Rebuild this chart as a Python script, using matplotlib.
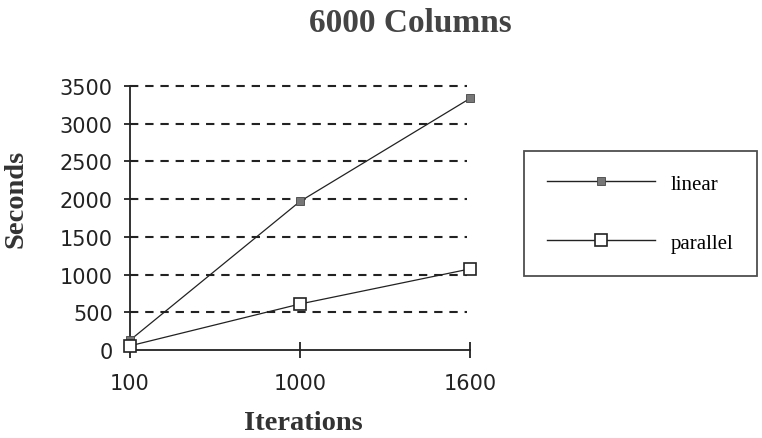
import matplotlib
matplotlib.use("Agg")
import matplotlib.pyplot as plt
from matplotlib.lines import Line2D

categories = ["100", "1000", "1600"]
linear = [130, 1970, 3335]
parallel = [55, 610, 1075]
yticks = [0, 500, 1000, 1500, 2000, 2500, 3000, 3500]

fig = plt.figure(figsize=(7.62, 4.39), dpi=100)
ax = fig.add_axes([130/762, 1-351/439, 340/762, 264/439])
x = list(range(len(categories)))

for y in yticks[1:]:
    ax.axhline(y, color="#222222", lw=1.5, ls=(0, (4, 3.3)), xmax=0.99, zorder=1,
               clip_on=False)

ax.plot(x, linear, color="#222222", lw=0.9, marker="s", markersize=5.5,
        markerfacecolor="#777777", markeredgecolor="#444444", markeredgewidth=0.6,
        zorder=3, clip_on=False)
ax.plot(x, parallel, color="#222222", lw=0.9, marker="s", markersize=9,
        markerfacecolor="white", markeredgecolor="#222222", markeredgewidth=1.2,
        zorder=4, clip_on=False)

ax.set_xlim(0, 2)
ax.set_ylim(0, 3500)
ax.set_xticks(x)
ax.set_xticklabels(categories)
ax.set_yticks(yticks)
ax.set_yticklabels([str(v) for v in yticks])
for s in ["top", "right"]:
    ax.spines[s].set_visible(False)
for s in ["left", "bottom"]:
    ax.spines[s].set_linewidth(1.3)
    ax.spines[s].set_color("#222222")
ax.tick_params(axis="x", direction="inout", length=11, width=1.3, color="#222222",
               labelsize=15, pad=11, labelcolor="#222222")
ax.tick_params(axis="y", direction="inout", length=9, width=1.3, color="#222222",
               labelsize=15, pad=8, labelcolor="#222222")
for lab in ax.get_xticklabels() + ax.get_yticklabels():
    lab.set_family("DejaVu Sans")
for sp in ax.spines.values():
    sp.set_clip_on(False)

fig.text(410/762, 1-24/439, "6000 Columns", ha="center", va="center",
         fontsize=24, fontweight="bold", family="Liberation Serif", color="#444444")
fig.text(303/762, 1-424/439, "Iterations", ha="center", va="center",
         fontsize=20.5, fontweight="bold", family="Liberation Serif", color="#333333")
fig.text(16/762, 1-199/439, "Seconds", ha="center", va="center", rotation=90,
         fontsize=20.5, fontweight="bold", family="Liberation Serif", color="#333333")

handles = [
    Line2D([], [], color="#222222", lw=1.0, marker="s", markersize=5.5,
           markerfacecolor="#777777", markeredgecolor="#444444", markeredgewidth=0.6),
    Line2D([], [], color="#222222", lw=1.0, marker="s", markersize=9,
           markerfacecolor="white", markeredgecolor="#222222", markeredgewidth=1.2),
]
leg = fig.legend(handles, ["linear", "parallel"], loc="upper left",
                 bbox_to_anchor=(524/762, 1-152/439),
                 prop={"family": "Liberation Serif", "size": 15},
                 handlelength=5.2, handletextpad=0.75, labelspacing=1.9,
                 borderpad=1.1, frameon=True, fancybox=False, borderaxespad=0)
leg.get_frame().set_edgecolor("#222222")
leg.get_frame().set_linewidth(1.3)

fig.savefig("out.png", dpi=100)
